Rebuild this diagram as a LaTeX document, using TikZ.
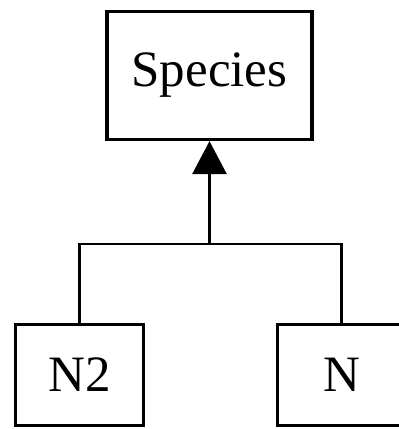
\documentclass[tikz,border=0pt]{standalone}
\usepackage{fontspec}
\setmainfont{Liberation Serif}
\usetikzlibrary{arrows.meta,positioning}

\begin{document}
\begin{tikzpicture}[x=1pt,y=-1pt,>={Triangle[length=33pt,width=34pt]},
    cls/.style={draw,line width=3.2pt,inner sep=0pt,font=\fontsize{51}{51}\selectfont},
    link/.style={line width=2.8pt}]
  \useasboundingbox (0,0) rectangle (399,429);
  \node[cls,minimum width=205pt,minimum height=128pt] (species) at (209.5,75.5) {Species};
  \node[cls,minimum width=128pt,minimum height=101pt] (n2) at (79.5,375) {N2};
  \node[cls,minimum width=128pt,minimum height=101pt] (n) at (341.5,375) {N};
  \coordinate (bus) at (209.5,244);
  \draw[link] (n2.north) |- (bus) -| (n.north);
  \draw[link,->] (bus) -- (species.south);
\end{tikzpicture}
\end{document}
